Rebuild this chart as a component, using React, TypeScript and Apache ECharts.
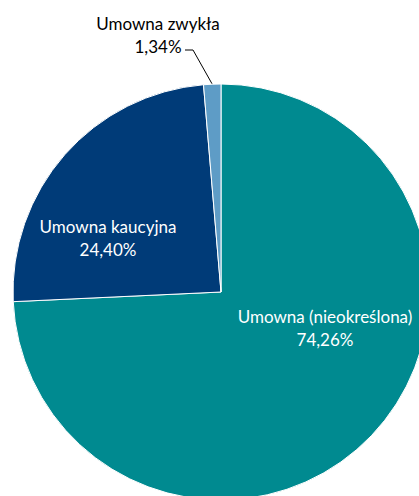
import React, { useEffect, useRef } from "react";
import * as echarts from "echarts";

const categories = ["Umowna (nieokreślona)", "Umowna kaucyjna", "Umowna zwykła"];
const values = [74.26, 24.4, 1.34];
const colors = ["#008A90", "#003B78", "#5E9CC6"];

const fmt = (v: number) => v.toFixed(2).replace(".", ",") + "%";

export default function App() {
  const ref = useRef<HTMLDivElement>(null);
  useEffect(() => {
    document.body.style.margin = "0";
    const chart = echarts.init(ref.current!, null, { renderer: "svg" });
    const labelPos = [
      { x: 325, y: 328, color: "#ffffff" },
      { x: 108, y: 238, color: "#ffffff" },
      { x: 158, y: 35, color: "#000000" },
    ];
    chart.setOption({
      animation: false,
      backgroundColor: "#ffffff",
      series: [
        {
          type: "pie",
          center: [221, 292],
          radius: 208,
          startAngle: 90,
          clockwise: true,
          itemStyle: { borderColor: "#ffffff", borderWidth: 1 },
          label: {
            show: true,
            fontFamily: "Lato",
            fontSize: 17,
            lineHeight: 23,
            align: "center",
            formatter: (p: any) => `${p.name}\n${fmt(p.value)}`,
          },
          labelLine: { show: true, lineStyle: { color: "#000000", width: 1 } },
          labelLayout: (p: any) => {
            const lp = labelPos[p.dataIndex];
            const out: any = { x: lp.x, y: lp.y, align: "center", verticalAlign: "middle" };
            if (p.dataIndex === 2 && p.labelLinePoints) {
              const start = p.labelLinePoints[0];
              out.labelLinePoints = [
                [start[0], start[1]],
                [lp.x + 35, lp.y + 15],
                [lp.x + 27, lp.y + 15],
              ];
            }
            return out;
          },
          data: categories.map((name, i) => ({
            name,
            value: values[i],
            itemStyle: { color: colors[i] },
            label: {
              color: labelPos[i].color,
              position: i === 2 ? "outside" : "inside",
            },
            labelLine: { show: i === 2 },
          })),
        },
      ],
    });
    return () => chart.dispose();
  }, []);
  return (
    <div
      ref={ref}
      style={{ position: "absolute", left: 0, top: 0, width: 419, height: 496 }}
    />
  );
}
